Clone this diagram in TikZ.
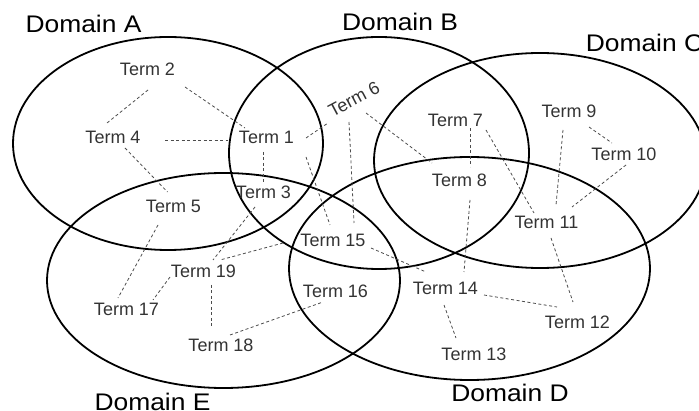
\documentclass[tikz,border=0pt]{standalone}
\usepackage{fontspec}
\setmainfont{Liberation Sans}
\usetikzlibrary{calc}
\tikzset{
  term/.style={font=\fontsize{18}{20}\selectfont, text=black!80, inner sep=0pt},
  domlabel/.style={font=\fontsize{24}{28}\selectfont, text=black, inner sep=0pt},
  dom/.style={line width=1.8pt, black},
  conn/.style={line width=0.8pt, black!70, dash pattern=on 3pt off 2.5pt}
}
\begin{document}
\begin{tikzpicture}[x=1pt,y=-1pt]
\useasboundingbox (0,0) rectangle (699,411);
% domains
\draw[dom] (168,143.5) ellipse [x radius=155pt, y radius=106.5pt];
\draw[dom] (379,153) ellipse [x radius=150pt, y radius=116pt];
\draw[dom] (540,160.5) ellipse [x radius=166pt, y radius=107.5pt];
\draw[dom] (469.5,268.5) ellipse [x radius=180.5pt, y radius=111.5pt];
\draw[dom] (223.5,280.5) ellipse [x radius=176.5pt, y radius=107.5pt];
% domain labels
\node[domlabel] (da) at (83.5,24) {\scalebox{1.1}[1]{Domain A}};
\node[domlabel] (db) at (400,22) {\scalebox{1.1}[1]{Domain B}};
\node[domlabel] (dc) at (644.5,43) {\scalebox{1.1}[1]{Domain C}};
\node[domlabel] (dd) at (510,393) {\scalebox{1.1}[1]{Domain D}};
\node[domlabel] (de) at (152.5,402) {\scalebox{1.1}[1]{Domain E}};
% terms
\node[term] (t1) at (266.5,137.5) {Term 1};
\node[term] (t2) at (147.5,69.5) {Term 2};
\node[term] (t3) at (263.5,192) {Term 3};
\node[term] (t4) at (113,137.5) {Term 4};
\node[term] (t5) at (173.5,206) {Term 5};
\node[term, rotate=28] (t6) at (354,99) {Term 6};
\node[term] (t7) at (455.5,120.5) {Term 7};
\node[term] (t8) at (459.5,180.5) {Term 8};
\node[term] (t9) at (569,111.5) {Term 9};
\node[term] (t10) at (624,154.5) {Term 10};
\node[term] (t11) at (546.5,222.5) {Term 11};
\node[term] (t12) at (577.5,322.5) {Term 12};
\node[term] (t13) at (474,354.5) {Term 13};
\node[term] (t14) at (445.5,288) {Term 14};
\node[term] (t15) at (333,240.5) {Term 15};
\node[term] (t16) at (335.5,291.5) {Term 16};
\node[term] (t17) at (126.5,309.5) {Term 17};
\node[term] (t18) at (221,345.5) {Term 18};
\node[term] (t19) at (203.5,271.5) {Term 19};
% connectors
\draw[conn] ($(t2)+(0.5,20.5)$) -- ($(t4)+(-6,-14.5)$);
\draw[conn] ($(t2)+(37.5,17.5)$) -- ($(t1)+(-21.5,-9.5)$);
\draw[conn] ($(t4)+(52,2.5)$) -- ($(t1)+(-38.5,2.5)$);
\draw[conn] ($(t4)+(12,10.5)$) -- ($(t5)+(-6,-14)$);
\draw[conn] ($(t1)+(-3.5,14.5)$) -- ($(t3)+(-0.5,-8)$);
\draw[conn] ($(t1)+(39.5,0.5)$) -- ($(t6)+(-26,24)$);
\draw[conn] ($(t1)+(39.5,19.5)$) -- ($(t15)+(-3,-15.5)$);
\draw[conn] ($(t6)+(-5,23)$) -- ($(t15)+(21,-17.5)$);
\draw[conn] ($(t6)+(12,14)$) -- ($(t8)+(-27.5,-17.5)$);
\draw[conn] ($(t7)+(14.5,8)$) -- ($(t8)+(10.5,-13.5)$);
\draw[conn] ($(t8)+(10.5,19.5)$) -- ($(t14)+(18.5,-16)$);
\draw[conn] ($(t7)+(30.5,9.5)$) -- ($(t11)+(-12.5,-9.5)$);
\draw[conn] ($(t9)+(-6,18.5)$) -- ($(t11)+(9.5,-17.5)$);
\draw[conn] ($(t9)+(20,15.5)$) -- ($(t10)+(-12,-11.5)$);
\draw[conn] ($(t10)+(2,10.5)$) -- ($(t11)+(25.5,-15.5)$);
\draw[conn] ($(t11)+(4.5,15.5)$) -- ($(t12)+(-4.5,-20.5)$);
\draw[conn] ($(t14)+(38.5,7)$) -- ($(t12)+(-20.5,-15.5)$);
\draw[conn] ($(t14)+(-1.5,17)$) -- ($(t13)+(-18,-16.5)$);
\draw[conn] ($(t15)+(38,7.5)$) -- ($(t14)+(-19.5,-16)$);
\draw[conn] ($(t15)+(-50,2.5)$) -- ($(t19)+(16.5,-11.5)$);
\draw[conn] ($(t3)+(-8.5,15)$) -- ($(t19)+(9.5,-11.5)$);
\draw[conn] ($(t5)+(-15.5,19)$) -- ($(t17)+(-8.5,-11.5)$);
\draw[conn] ($(t19)+(-33.5,5.5)$) -- ($(t17)+(26.5,-9.5)$);
\draw[conn] ($(t19)+(7.5,13.5)$) -- ($(t18)+(-10,-17.5)$);
\draw[conn] ($(t18)+(9,-10.5)$) -- ($(t16)+(-12.5,10.5)$);
\end{tikzpicture}
\end{document}
